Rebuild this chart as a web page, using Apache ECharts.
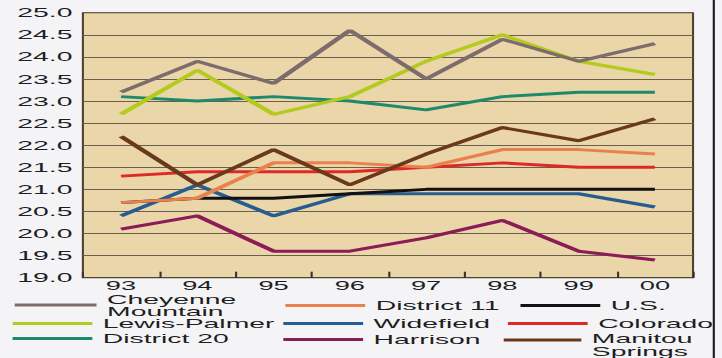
<!DOCTYPE html>
<html>
<head>
<meta charset="utf-8">
<script src="https://cdn.jsdelivr.net/npm/echarts@6/dist/echarts.min.js"></script>
<style>
  html, body { margin: 0; padding: 0; background: #f4f4f6; overflow: hidden; }
  #wrap { width: 722px; height: 358px; position: relative; overflow: hidden; }
  #chart { width: 344px; height: 358px; transform: scaleX(2.0988); transform-origin: 0 0; }
</style>
</head>
<body>
<div id="wrap"><div id="chart"></div></div>
<script>
// ---- data ----
const years = ['93', '94', '95', '96', '97', '98', '99', '00'];

const cheyenneMountain = [23.2, 23.9, 23.4, 24.6, 23.5, 24.4, 23.9, 24.3];
const lewisPalmer      = [22.7, 23.7, 22.7, 23.1, 23.9, 24.5, 23.9, 23.6];
const district20       = [23.1, 23.0, 23.1, 23.0, 22.8, 23.1, 23.2, 23.2];
const manitouSprings   = [22.2, 21.1, 21.9, 21.1, 21.8, 22.4, 22.1, 22.6];
const district11       = [20.7, 20.8, 21.6, 21.6, 21.5, 21.9, 21.9, 21.8];
const colorado         = [21.3, 21.4, 21.4, 21.4, 21.5, 21.6, 21.5, 21.5];
const unitedStates     = [20.7, 20.8, 20.8, 20.9, 21.0, 21.0, 21.0, 21.0];
const widefield        = [20.4, 21.1, 20.4, 20.9, 20.9, 20.9, 20.9, 20.6];
const harrison         = [20.1, 20.4, 19.6, 19.6, 19.9, 20.3, 19.6, 19.4];

const seriesNames = ['Cheyenne Mountain', 'District 11', 'U.S.', 'Lewis-Palmer', 'Widefield',
                     'Colorado', 'District 20', 'Harrison', 'Manitou Springs'];
const yTicks = ['19.0','19.5','20.0','20.5','21.0','21.5','22.0','22.5','23.0','23.5','24.0','24.5','25.0'];

// ---- styling ----
const colors = {
  'Cheyenne Mountain': '#7d6c6c',
  'District 11': '#e9814d',
  'U.S.': '#111111',
  'Lewis-Palmer': '#b3cb1f',
  'Widefield': '#275c93',
  'Colorado': '#de2a26',
  'District 20': '#1f8a6b',
  'Harrison': '#8c1c58',
  'Manitou Springs': '#6a391b'
};
const values = {
  'Cheyenne Mountain': cheyenneMountain,
  'District 11': district11,
  'U.S.': unitedStates,
  'Lewis-Palmer': lewisPalmer,
  'Widefield': widefield,
  'Colorado': colorado,
  'District 20': district20,
  'Harrison': harrison,
  'Manitou Springs': manitouSprings
};
const drawOrder = ['Harrison', 'Widefield', 'U.S.', 'Colorado', 'District 11',
                   'Manitou Springs', 'District 20', 'Lewis-Palmer', 'Cheyenne Mountain'];

const FONT = 'Liberation Sans, Arial, sans-serif';
const legendPos = {
  'Cheyenne Mountain': { left: 7,   top: 292, w: 39 },
  'Lewis-Palmer':      { left: 6,   top: 316.5, w: 38 },
  'District 20':       { left: 6,   top: 331.5, w: 38 },
  'District 11':       { left: 136, top: 298.5, w: 38 },
  'Widefield':         { left: 135, top: 316.5, w: 38 },
  'Harrison':          { left: 135, top: 332.5, w: 38 },
  'U.S.':              { left: 248, top: 298.5, w: 38 },
  'Colorado':          { left: 242, top: 316.5, w: 38 },
  'Manitou Springs':   { left: 240, top: 331, w: 37 }
};

const legends = seriesNames.map(name => {
  const p = legendPos[name];
  const base = {
    data: [name],
    left: p.left,
    top: p.top,
    padding: 0,
    itemWidth: p.w,
    itemHeight: 3,
    itemGap: 0,
    icon: 'rect',
    selectedMode: false
  };
  if (name === 'Manitou Springs') {
    base.formatter = () => '{a|Manitou}\n{b|Springs}';
    base.textStyle = {
      fontFamily: FONT, fontSize: 13.5, color: '#1e1e1e',
      rich: {
        a: { fontFamily: FONT, fontSize: 13.5, color: '#1e1e1e', lineHeight: 22, verticalAlign: 'bottom' },
        b: { fontFamily: FONT, fontSize: 13.5, color: '#1e1e1e', lineHeight: 12 }
      }
    };
  } else {
    base.formatter = n => n === 'Cheyenne Mountain' ? 'Cheyenne\nMountain' : n;
    base.textStyle = {
      fontFamily: FONT, fontSize: 13.5, color: '#1e1e1e',
      lineHeight: name === 'Cheyenne Mountain' ? 12 : 13
    };
  }
  return base;
});

const chart = echarts.init(document.getElementById('chart'), null, { renderer: 'svg' });
chart.setOption({
  backgroundColor: 'transparent',
  animation: false,
  legend: legends,
  grid: {
    left: 39.5, right: 13.8, top: 12.7, bottom: 80.3,
    show: true, backgroundColor: '#ebd6a9', borderColor: '#4e4434', borderWidth: 1
  },
  xAxis: {
    type: 'category',
    data: years,
    boundaryGap: true,
    axisLine: { show: true, lineStyle: { color: '#4e4434', width: 1 } },
    axisTick: { show: true, inside: true, length: 6, lineStyle: { color: '#3a3228', width: 1 } },
    axisLabel: { fontFamily: FONT, fontSize: 13, lineHeight: 13, color: '#1e1e1e', margin: 2 },
    splitLine: { show: false }
  },
  yAxis: {
    type: 'value',
    min: 19, max: 25, interval: 0.5,
    axisLine: { show: false },
    axisTick: { show: false },
    axisLabel: {
      fontFamily: FONT, fontSize: 13.5, color: '#1e1e1e', margin: 5,
      formatter: v => yTicks[Math.round((v - 19) / 0.5)]
    },
    splitLine: { show: true, lineStyle: { color: '#6a5e4c', width: 1 } }
  },
  series: drawOrder.map(name => ({
    name: name,
    type: 'line',
    data: values[name],
    symbol: 'none',
    color: colors[name],
    lineStyle: { width: 3, color: colors[name] }
  })),
  graphic: [{
    type: 'rect',
    shape: { x: 339.6, y: 0, width: 1, height: 358 },
    style: { fill: '#1a1a1a' },
    silent: true
  }]
});
</script>
</body>
</html>
